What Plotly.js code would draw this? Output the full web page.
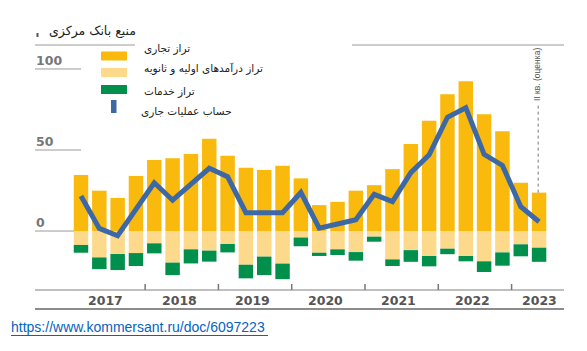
<!DOCTYPE html>
<html>
<head>
<meta charset="utf-8">
<script src="https://cdn.plot.ly/plotly-3.0.1.min.js"></script>
<style>
html,body{margin:0;padding:0;background:#fff;}
#chart{width:587px;height:351px;}
</style>
</head>
<body>
<div id="chart"></div>
<script>
// ---- data (billion USD, quarterly) ----
const quarters = ['2017 Q1','2017 Q2','2017 Q3','2017 Q4','2018 Q1','2018 Q2','2018 Q3','2018 Q4',
  '2019 Q1','2019 Q2','2019 Q3','2019 Q4','2020 Q1','2020 Q2','2020 Q3','2020 Q4',
  '2021 Q1','2021 Q2','2021 Q3','2021 Q4','2022 Q1','2022 Q2','2022 Q3','2022 Q4','2023 Q1','2023 Q2'];
const tradeBalance = [34.6, 24.9, 20.4, 34, 43.8, 44.9, 47.5, 57, 46.5, 39, 37.7, 40.3, 32.5, 16, 18, 24.9,
  28.3, 38.2, 53.7, 68, 84.4, 92.5, 72, 61.5, 29.8, 23.7];
const incomeBalance = [-8.6, -16.3, -14.2, -13.6, -7.6, -19.5, -11.3, -12.1, -8, -20.8, -15.8, -20.1, -4, -13.4, -11.3, -13,
  -3.5, -17.5, -11.8, -15.4, -10.9, -15.4, -18.7, -13.2, -8.2, -10.3];
const servicesBalance = [-4.8, -7.2, -9.9, -8, -6.2, -7.7, -8.7, -6.8, -5.2, -8.4, -11.4, -9.6, -5.4, -2, -3.5, -5.3,
  -3.1, -4.1, -7.2, -6.4, -3.4, -3.3, -6.6, -8.2, -7.4, -8.7];
const currentAccount = [21.6, 1.6, -2.9, 13, 29.8, 19, 28.5, 38.7, 33.5, 11.3, 11.3, 11.3, 23.8, 1.8, 4.3, 7,
  22.6, 18.1, 36, 47, 70.2, 76.1, 47.3, 40.5, 15, 5.7];
const years = ['2017','2018','2019','2020','2021','2022','2023'];
const yTicks = [0, 50, 100];
const seriesNames = ['تراز تجاری', 'تراز درآمدهای اولیه و ثانویه', 'تراز خدمات', 'حساب عملیات جاری'];
const titleText = 'منبع بانک مرکزی';
const noteText = 'II кв. (оценка)';
const sourceUrl = 'https://www.kommersant.ru/doc/6097223';

// ---- styling ----
const C_TRADE = '#f9b90d', C_INCOME = '#fdd98b', C_SERV = '#00904c', C_CA = '#3d68a6';
const L = 35, T = 45, W = 529, H = 245;
const fx = px => (px - L) / W;
const fy = py => 1 - (py - T) / H;

const traces = [
  {type:'bar', x:quarters, y:tradeBalance, name:seriesNames[0], marker:{color:C_TRADE}},
  {type:'bar', x:quarters, y:incomeBalance, name:seriesNames[1], marker:{color:C_INCOME}},
  {type:'bar', x:quarters, y:servicesBalance, name:seriesNames[2], marker:{color:C_SERV}},
  {type:'scatter', mode:'lines', x:quarters, y:currentAccount, name:seriesNames[3],
   line:{color:C_CA, width:5}}
];

const shapes = [];
const annotations = [];
const grey = '#9a9a9a';

// top rule (broken behind legend)
shapes.push({type:'line', xref:'paper', yref:'paper', x0:fx(35), x1:fx(135), y0:1, y1:1, line:{color:grey, width:1}});
shapes.push({type:'line', xref:'paper', yref:'paper', x0:fx(352), x1:fx(564), y0:1, y1:1, line:{color:grey, width:1}});
// gridline stubs and labels
yTicks.forEach(v => {
  shapes.push({type:'line', xref:'paper', yref:'y', x0:0, x1: v === 0 ? fx(74) : fx(81), y0:v, y1:v,
    line:{color:grey, width:1}});
  annotations.push({xref:'paper', yref:'y', x:0, y:v, xanchor:'left', yanchor:'bottom', yshift:-1, xshift:-1,
    text:String(v), showarrow:false, font:{family:'DejaVu Sans', size:12.5, color:'#777', weight:'bold'}});
});
// bottom axis lines
shapes.push({type:'line', xref:'paper', yref:'paper', x0:0, x1:1, y0:0, y1:0, line:{color:'#aaa', width:1.5}});
shapes.push({type:'line', xref:'paper', yref:'paper', x0:0, x1:1, y0:fy(309), y1:fy(309), line:{color:'#666', width:1.5}});
// year separators and labels
let idx = 0;
years.forEach((yr, i) => {
  const n = quarters.filter(q => q.startsWith(yr)).length;
  const center = i === years.length - 1 ? idx + 1 : idx + (n - 1) / 2 - 0.15;
  annotations.push({xref:'x', yref:'paper', x:center, y:fy(300), text:yr, showarrow:false,
    xanchor:'center', yanchor:'middle', font:{family:'DejaVu Sans', size:12.5, color:'#555', weight:'bold'}});
  idx += n;
  if (i < years.length - 1) {
    shapes.push({type:'line', xref:'x', yref:'paper', x0:idx - 0.5, x1:idx - 0.5, y0:0, y1:fy(284),
      line:{color:'#777', width:1.5}});
  }
});
// estimate note
const last = quarters.length - 1;
shapes.push({type:'line', xref:'x', yref:'y', x0:last - 0.05, x1:last - 0.05, y0:tradeBalance[last], y1:(231 - 103) / 1.62,
  line:{color:'#777', width:1, dash:'dot'}});
annotations.push({xref:'paper', yref:'paper', x:fx(537), y:fy(75), text:noteText, textangle:-90, showarrow:false,
  xanchor:'center', yanchor:'middle', font:{family:'Liberation Sans', size:8.5, color:'#555'}});

// title
annotations.push({xref:'paper', yref:'paper', x:fx(138), y:fy(31), text:titleText, showarrow:false,
  xanchor:'right', yanchor:'middle', font:{family:'DejaVu Sans', size:12.5, color:'#222'}});
shapes.push({type:'rect', xref:'paper', yref:'paper', x0:fx(36.5), x1:fx(38.5), y0:fy(37), y1:fy(33),
  fillcolor:'#555', line:{width:0}});

// legend (manual)
const legY = [56, 72.5, 89.5, 106];
const legTextY = [48, 68, 91, 111];
const legColors = [C_TRADE, C_INCOME, C_SERV];
legColors.forEach((c, i) => {
  shapes.push({type:'rect', xref:'paper', yref:'paper', x0:fx(101), x1:fx(127), y0:fy(legY[i] - 4.5), y1:fy(legY[i] + 4.5),
    fillcolor:c, line:{width:0}});
});
shapes.push({type:'rect', xref:'paper', yref:'paper', x0:fx(111), x1:fx(116.5), y0:fy(100), y1:fy(113),
  fillcolor:C_CA, line:{width:0}});
seriesNames.forEach((nm, i) => {
  annotations.push({xref:'paper', yref:'paper', x:fx(i === 3 ? 139 : 142), y:fy(legTextY[i]), text:nm, showarrow:false,
    xanchor:'left', yanchor:'middle', font:{family:'DejaVu Sans', size:10.5, color:'#222'}});
});

// source link
annotations.push({xref:'paper', yref:'paper', x:fx(9), y:fy(327), text:sourceUrl, showarrow:false,
  xanchor:'left', yanchor:'middle', font:{family:'Liberation Sans', size:14, color:'#0563c1'}});
shapes.push({type:'line', xref:'paper', yref:'paper', x0:fx(11), x1:fx(268), y0:fy(335.5), y1:fy(335.5),
  line:{color:'#0563c1', width:1}});

const layout = {
  width:587, height:351,
  margin:{l:L, r:587 - L - W, t:T, b:351 - T - H, pad:0},
  paper_bgcolor:'#fff', plot_bgcolor:'rgba(0,0,0,0)',
  barmode:'relative', bargap:0.21,
  showlegend:false,
  xaxis:{type:'category', range:[-2.51, 26.36], visible:false, fixedrange:true},
  yaxis:{range:[-36.4, 114.8], visible:false, fixedrange:true},
  shapes:shapes, annotations:annotations
};
Plotly.newPlot('chart', traces, layout, {staticPlot:true, displayModeBar:false});
</script>
</body>
</html>
